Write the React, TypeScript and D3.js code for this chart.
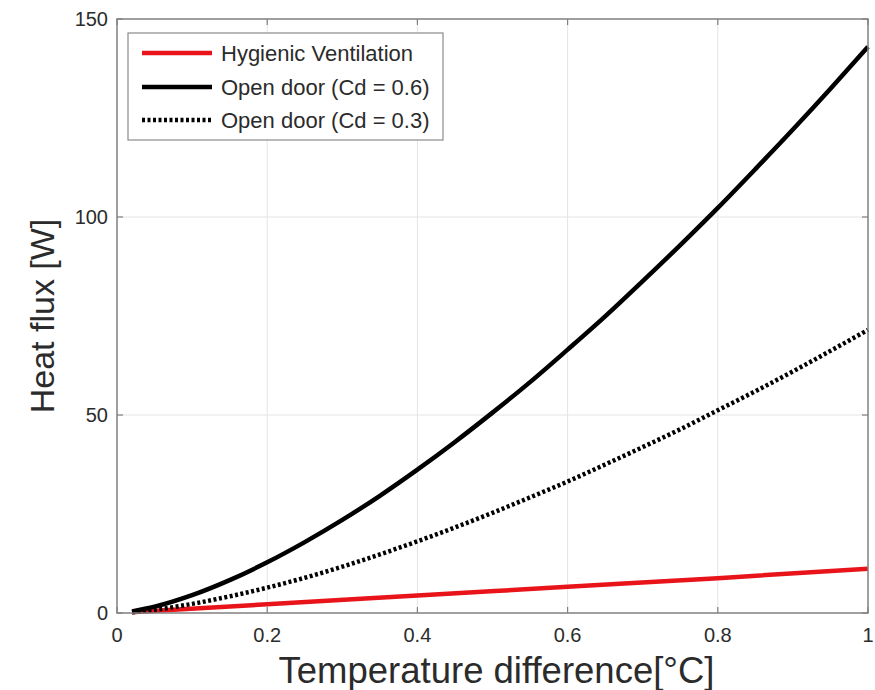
import React from "react";
import * as d3 from "d3";

const xValues = [0.02, 0.05, 0.1, 0.15, 0.2, 0.25, 0.3, 0.35, 0.4, 0.45, 0.5, 0.55, 0.6, 0.65, 0.7, 0.75, 0.8, 0.85, 0.9, 0.95, 1.0];
const openDoor06 = [0.4, 1.6, 4.5, 8.3, 12.8, 17.9, 23.5, 29.6, 36.2, 43.2, 50.6, 58.3, 66.5, 74.9, 83.8, 92.9, 102.3, 112.1, 122.1, 132.4, 143];
const openDoor03 = [0.2, 0.8, 2.3, 4.2, 6.4, 8.9, 11.7, 14.8, 18.1, 21.6, 25.3, 29.2, 33.2, 37.5, 41.9, 46.4, 51.2, 56.0, 61.0, 66.2, 71.5];
const hygienicX = [0.02, 0.2, 0.4, 0.6, 0.8, 1.0];
const hygienic = [0.2, 2.2, 4.4, 6.6, 8.8, 11.2];

const xTicks = [0, 0.2, 0.4, 0.6, 0.8, 1];
const xTickLabels = ["0", "0.2", "0.4", "0.6", "0.8", "1"];
const yTicks = [0, 50, 100, 150];
const yTickLabels = ["0", "50", "100", "150"];

const legendLabels = ["Hygienic Ventilation", "Open door (Cd = 0.6)", "Open door (Cd = 0.3)"];

const W = 875, H = 690;
const L = 117, R = 868, T = 19, B = 613;
const font = "Arial, 'Liberation Sans', Helvetica, sans-serif";
const textColor = "#2b2b2b";

export default function App() {
  const x = d3.scaleLinear().domain([0, 1]).range([L, R]);
  const y = d3.scaleLinear().domain([0, 150]).range([B, T]);
  const line = d3.line<[number, number]>().x(d => x(d[0])).y(d => y(d[1])).curve(d3.curveMonotoneX);

  const s06 = xValues.map((v, i) => [v, openDoor06[i]] as [number, number]);
  const s03 = xValues.map((v, i) => [v, openDoor03[i]] as [number, number]);
  const sh = hygienicX.map((v, i) => [v, hygienic[i]] as [number, number]);

  const legendStyles = [
    { stroke: "#e8141a", dash: undefined as string | undefined },
    { stroke: "#000", dash: undefined },
    { stroke: "#000", dash: "3 2.5" },
  ];
  const rowY = [53, 87, 120];

  return (
    <svg width={W} height={H} style={{ position: "absolute", left: 0, top: 0, background: "#fff" }}>
      <rect x={0} y={0} width={W} height={H} fill="#fff" />
      {xTicks.slice(1, -1).map((t, i) => (
        <line key={"gx" + i} x1={x(t)} x2={x(t)} y1={T} y2={B} stroke="#e4e4e4" strokeWidth={1} />
      ))}
      {yTicks.slice(1, -1).map((t, i) => (
        <line key={"gy" + i} x1={L} x2={R} y1={y(t)} y2={y(t)} stroke="#e4e4e4" strokeWidth={1} />
      ))}
      <path d={line(sh) || ""} fill="none" stroke="#e8141a" strokeWidth={4.5} />
      <path d={line(s03) || ""} fill="none" stroke="#000" strokeWidth={4.5} strokeDasharray="3 2.5" />
      <path d={line(s06) || ""} fill="none" stroke="#000" strokeWidth={4.5} />
      <rect x={L} y={T} width={R - L} height={B - T} fill="none" stroke="#808080" strokeWidth={1.5} />
      {xTicks.map((t, i) => (
        <g key={"xt" + i}>
          <line x1={x(t)} x2={x(t)} y1={B} y2={B - 6} stroke="#808080" strokeWidth={1.2} />
          <line x1={x(t)} x2={x(t)} y1={T} y2={T + 6} stroke="#808080" strokeWidth={1.2} />
          <text x={x(t)} y={642} textAnchor="middle" fontFamily={font} fontSize={20} fill={textColor}>
            {xTickLabels[i]}
          </text>
        </g>
      ))}
      {yTicks.map((t, i) => (
        <g key={"yt" + i}>
          <line x1={L} x2={L + 6} y1={y(t)} y2={y(t)} stroke="#808080" strokeWidth={1.2} />
          <line x1={R} x2={R - 6} y1={y(t)} y2={y(t)} stroke="#808080" strokeWidth={1.2} />
          <text x={108} y={y(t) + 7} textAnchor="end" fontFamily={font} fontSize={20} fill={textColor}>
            {yTickLabels[i]}
          </text>
        </g>
      ))}
      <text x={(L + R) / 2 + 4} y={683} textAnchor="middle" fontFamily={font} fontSize={36.5} fill={textColor}>
        Temperature difference[°C]
      </text>
      <text transform={`translate(54, ${(T + B) / 2}) rotate(-90)`} textAnchor="middle" fontFamily={font} fontSize={34} fill={textColor}>
        Heat flux [W]
      </text>
      <rect x={128} y={33} width={315} height={107} fill="#fff" stroke="#8a8a8a" strokeWidth={1.2} />
      {legendLabels.map((lab, i) => (
        <g key={"lg" + i}>
          <line x1={142} x2={212} y1={rowY[i]} y2={rowY[i]} stroke={legendStyles[i].stroke} strokeWidth={4.5} strokeDasharray={legendStyles[i].dash} />
          <text x={221} y={rowY[i] + 8} fontFamily={font} fontSize={22} fill={textColor}>
            {lab}
          </text>
        </g>
      ))}
    </svg>
  );
}
